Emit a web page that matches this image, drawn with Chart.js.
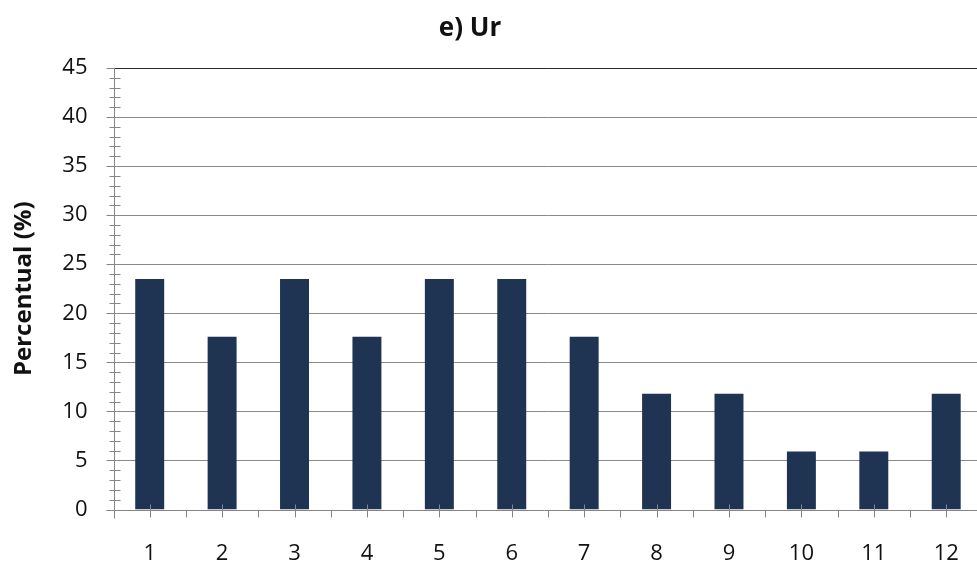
<!DOCTYPE html>
<html>
<head>
<meta charset="utf-8">
<script src="https://cdn.jsdelivr.net/npm/chart.js@4"></script>
<style>
html,body{margin:0;padding:0;background:#fff;overflow:hidden;width:977px;height:564px;}
#wrap{position:absolute;left:0;top:0;width:990px;height:564px;}
</style>
</head>
<body>
<div id="wrap"><canvas id="c" width="990" height="564"></canvas></div>
<script>
const categories = ['1','2','3','4','5','6','7','8','9','10','11','12'];
const percentual = [23.5, 17.6, 23.5, 17.6, 23.5, 23.5, 17.6, 11.8, 11.8, 5.9, 5.9, 11.8];
const yTicks = [0, 5, 10, 15, 20, 25, 30, 35, 40, 45];
const titleText = 'e) Ur';
const yTitle = 'Percentual (%)';

const FONT = '"Open Sans", "DejaVu Sans", sans-serif';
const AXIS_COLOR = '#858585';

const decor = {
  id: 'decor',
  afterDraw(chart) {
    const ctx = chart.ctx;
    const x = chart.scales.x, y = chart.scales.y;
    const area = chart.chartArea;
    const x0 = Math.round(area.left) + 0.5;
    const y0 = Math.round(y.getPixelForValue(0)) + 0.5;
    ctx.save();
    ctx.strokeStyle = AXIS_COLOR;
    ctx.lineWidth = 1;
    ctx.beginPath();
    ctx.moveTo(x0, Math.round(y.getPixelForValue(yTicks[yTicks.length-1])));
    ctx.lineTo(x0, y0 + 8);
    ctx.moveTo(x0 - 8, y0);
    ctx.lineTo(area.right, y0);
    for (let v = 0; v <= yTicks[yTicks.length-1]; v++) {
      const py = Math.round(y.getPixelForValue(v)) + 0.5;
      if (v % 5 === 0) { ctx.moveTo(x0 - 8, py); ctx.lineTo(x0, py); }
      else { ctx.moveTo(x0 - 5, py); ctx.lineTo(x0 + 6, py); }
    }
    for (let i = 0; i < categories.length; i++) {
      const pc = Math.round(x.getPixelForValue(i)) + 0.5;
      ctx.moveTo(pc, y0 - 6); ctx.lineTo(pc, y0 + 7);
      if (i < categories.length - 1) {
        const pb = Math.round((x.getPixelForValue(i) + x.getPixelForValue(i+1)) / 2) + 0.5;
        ctx.moveTo(pb, y0); ctx.lineTo(pb, y0 + 7);
      }
    }
    ctx.stroke();
    ctx.fillStyle = '#111';
    ctx.font = 'bold 26px ' + FONT;
    ctx.textAlign = 'center';
    ctx.textBaseline = 'middle';
    ctx.fillText(titleText, 470, 29);
    ctx.restore();
  }
};

new Chart(document.getElementById('c'), {
  type: 'bar',
  data: {
    labels: categories,
    datasets: [{
      data: percentual,
      backgroundColor: '#1f3352',
      borderWidth: 0,
      barPercentage: 0.4,
      categoryPercentage: 1.0
    }]
  },
  options: {
    responsive: false,
    animation: false,
    layout: { padding: { left: 0, right: 5, top: 68, bottom: 0 } },
    plugins: { legend: { display: false }, tooltip: { enabled: false }, title: { display: false } },
    scales: {
      x: {
        grid: { display: false, drawTicks: false },
        border: { display: false },
        ticks: { color: '#111', font: { family: FONT, size: 22 }, padding: 31, maxRotation: 0 },
        afterFit(s) { s.height = 54.5; }
      },
      y: {
        min: 0, max: 45,
        afterBuildTicks(s) { s.ticks = yTicks.map(v => ({ value: v })); },
        grid: {
          drawTicks: false,
          color: (c) => c.tick && c.tick.value === 45 ? '#2a2a2a' : '#8a8a8a',
          lineWidth: (c) => c.tick && c.tick.value === 0 ? 0 : 1
        },
        border: { display: false },
        ticks: { color: '#111', font: { family: FONT, size: 22 }, padding: 26 },
        title: { display: true, text: yTitle, color: '#111', font: { family: FONT, size: 24, weight: 'bold' }, padding: { top: 10, bottom: 0 } },
        afterFit(s) { s.width = 113.5; }
      }
    }
  },
  plugins: [decor]
});
</script>
</body>
</html>
